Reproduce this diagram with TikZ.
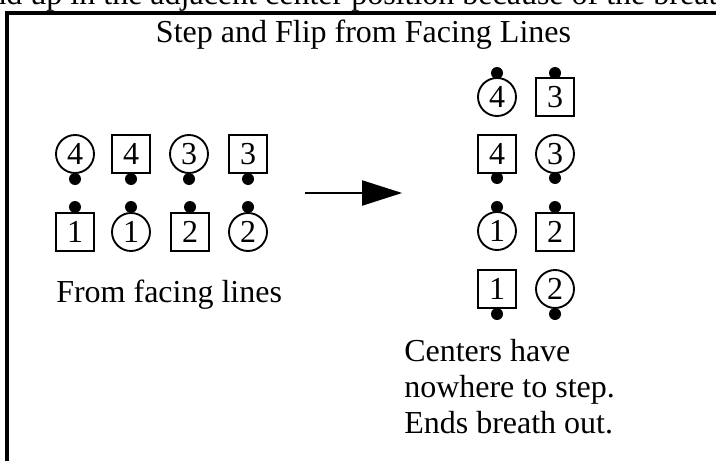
\documentclass[tikz,border=0pt]{standalone}
\usepackage{fontspec}
\setmainfont{Liberation Serif}
\usetikzlibrary{arrows.meta}
\begin{document}
\begin{tikzpicture}[x=0.75pt,y=-0.75pt,
  every node/.style={font=\fontsize{24}{27}\selectfont},
  dancer/.style={draw, line width=1.4pt, minimum size=28.5pt, inner sep=0pt},
  girl/.style={dancer, circle},
  boy/.style={dancer, rectangle},
  nose/.style={circle, fill=black, inner sep=0pt, minimum size=9pt},
  txt/.style={inner sep=0pt},
  frameline/.style={line width=2.3pt},
  arrowline/.style={line width=0.8pt, -{Triangle[length=30pt,width=19pt]}}]
\useasboundingbox (0,0) rectangle (716,460);
\begin{scope}
\clip (0,0) rectangle (716,460);
\node[txt, anchor=base west] (toptext) at (-24,5) {end up in the adjacent center position because of the breathing};
\draw[frameline] (7,480) |- (740,13);
\end{scope}

\node[txt, anchor=base] (title) at (363.5,43) {Step and Flip from Facing Lines};

% left: facing lines
\node[girl] (a1) at (75,154) {4};   \node[nose] (a1n) at (75,179) {};
\node[boy]  (a2) at (131,154) {4};  \node[nose] (a2n) at (131,179) {};
\node[girl] (a3) at (189,154) {3};  \node[nose] (a3n) at (189,179) {};
\node[boy]  (a4) at (248,154) {3};  \node[nose] (a4n) at (248,179) {};
\node[boy]  (b1) at (75,232) {1};   \node[nose] (b1n) at (75,207) {};
\node[girl] (b2) at (131,232) {1};  \node[nose] (b2n) at (131,207) {};
\node[boy]  (b3) at (190,232) {2};  \node[nose] (b3n) at (190,207) {};
\node[girl] (b4) at (248,232) {2};  \node[nose] (b4n) at (248,207) {};

\node[txt, anchor=base west] (from) at (56,302) {From facing lines};

% arrow
\coordinate (arrS) at (305,193);
\coordinate (arrE) at (402,193);
\draw[arrowline] (arrS) -- (arrE);

% right: after step and flip
\node[girl] (c1) at (497,97) {4};   \node[nose] (c1n) at (497,73) {};
\node[boy]  (c2) at (555,97) {3};   \node[nose] (c2n) at (555,73) {};
\node[boy]  (d1) at (497,154) {4};  \node[nose] (d1n) at (497,178) {};
\node[girl] (d2) at (555,154) {3};  \node[nose] (d2n) at (555,178) {};
\node[girl] (e1) at (497,231) {1};  \node[nose] (e1n) at (497,207) {};
\node[boy]  (e2) at (555,232) {2};  \node[nose] (e2n) at (555,207) {};
\node[boy]  (f1) at (497,289) {1};  \node[nose] (f1n) at (497,314) {};
\node[girl] (f2) at (555,289) {2};  \node[nose] (f2n) at (555,314) {};

\node[txt, anchor=north west, align=left] (note) at (404,339) {Centers have\\nowhere to step.\\Ends breath out.};
\end{tikzpicture}
\end{document}
